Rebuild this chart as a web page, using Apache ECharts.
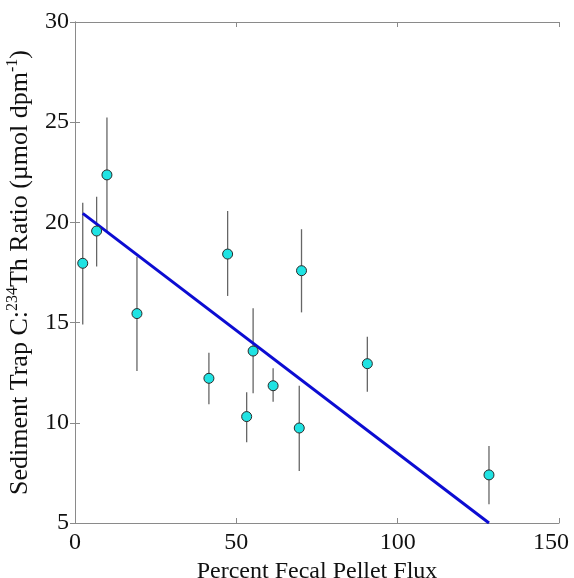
<!DOCTYPE html>
<html>
<head>
<meta charset="utf-8">
<script src="https://cdn.jsdelivr.net/npm/echarts@6/dist/echarts.min.js"></script>
<style>html,body{margin:0;padding:0;background:#fff}#c{width:574px;height:578px}</style>
</head>
<body>
<div id="c"></div>
<script>
// Data
var xValues   = [2.4, 6.7, 9.9, 19.2, 41.5, 47.3, 53.2, 55.2, 61.4, 69.5, 70.2, 90.6, 128.3];
var yValues   = [17.96, 19.57, 22.37, 15.45, 12.22, 18.42, 10.31, 13.58, 11.85, 9.74, 17.59, 12.95, 7.4];
var yLow      = [14.9, 17.8, 19.5, 12.58, 10.92, 16.33, 9.03, 11.47, 11.05, 7.6, 15.51, 11.55, 5.93];
var yHigh     = [20.98, 21.28, 25.24, 18.29, 13.5, 20.57, 11.52, 15.71, 12.72, 11.85, 19.66, 14.3, 8.84];
var fitX      = [2.4, 128.3];
var fitY      = [20.45, 5.0];
var xTicks    = [0, 50, 100, 150];
var yTicks    = [5, 10, 15, 20, 25, 30];

var points = xValues.map(function (x, i) { return [x, yValues[i]]; });
var bars = xValues.map(function (x, i) { return [x, yLow[i], yHigh[i]]; });
var fit = fitX.map(function (x, i) { return [x, fitY[i]]; });

var FONT = '"Liberation Serif", "Times New Roman", serif';
var axisCol = '#8a8a8a';
var xMax = xTicks[xTicks.length - 1];

var chart = echarts.init(document.getElementById('c'));
var baseX = { type: 'value', min: xTicks[0], max: xMax, interval: 50,
  splitLine: { show: false },
  axisLine: { show: true, lineStyle: { color: axisCol, width: 1 } },
  axisTick: { show: true, inside: true, length: 5, lineStyle: { color: axisCol } } };
var baseY = { type: 'value', min: yTicks[0], max: yTicks[yTicks.length - 1], interval: 5,
  splitLine: { show: false },
  axisLine: { show: true, lineStyle: { color: axisCol, width: 1 } },
  axisTick: { show: true, inside: true, length: 5, lineStyle: { color: axisCol } } };

chart.setOption({
  animation: false,
  backgroundColor: '#fff',
  grid: { left: 75, right: 15, top: 22, bottom: 55, containLabel: false, outerBoundsMode: 'none' },
  xAxis: [
    Object.assign({}, baseX, {
      position: 'bottom',
      axisLabel: { color: '#111', fontFamily: FONT, fontSize: 24, margin: 8,
        showMinLabel: true, showMaxLabel: true,
        formatter: function (v) { return v === xMax ? '{m|' + v + '}' : '{d|' + v + '}'; },
        rich: {
          d: { color: '#111', fontFamily: FONT, fontSize: 24 },
          m: { color: '#111', fontFamily: FONT, fontSize: 24, padding: [0, 16, 0, 0] }
        } },
      name: 'Percent Fecal Pellet Flux', nameLocation: 'middle', nameGap: 32,
      nameTextStyle: { color: '#111', fontFamily: FONT, fontSize: 24 }
    }),
    Object.assign({}, baseX, { position: 'top', axisLabel: { show: false } })
  ],
  yAxis: [
    Object.assign({}, baseY, {
      position: 'left',
      axisLabel: { color: '#111', fontFamily: FONT, fontSize: 24, margin: 6 },
      name: '{n|Sediment Trap C:}{s|234}{n|Th Ratio (µmol dpm}{s|-1}{n|)}',
      nameLocation: 'middle', nameRotate: 90, nameGap: 40,
      nameTextStyle: {
        color: '#111', fontFamily: FONT, fontSize: 26,
        rich: {
          n: { color: '#111', fontFamily: FONT, fontSize: 26, lineHeight: 30 },
          s: { color: '#111', fontFamily: FONT, fontSize: 16, lineHeight: 30, verticalAlign: 'top' }
        }
      }
    }),
    Object.assign({}, baseY, { position: 'right', axisLabel: { show: false } })
  ],
  series: [
    {
      type: 'custom',
      data: bars,
      z: 2,
      renderItem: function (params, api) {
        var x = api.value(0);
        var p1 = api.coord([x, api.value(1)]);
        var p2 = api.coord([x, api.value(2)]);
        return { type: 'line', shape: { x1: p1[0], y1: p1[1], x2: p2[0], y2: p2[1] },
          style: { stroke: '#666', lineWidth: 1.3 } };
      },
      encode: { x: 0, y: [1, 2] }
    },
    {
      type: 'line',
      data: fit,
      showSymbol: false,
      z: 3,
      lineStyle: { color: '#0c0cd2', width: 3 }
    },
    {
      type: 'scatter',
      data: points,
      z: 4,
      symbol: 'circle',
      symbolSize: 10,
      itemStyle: { color: '#1fe3e3', borderColor: '#2a2a2a', borderWidth: 1, opacity: 1 }
    }
  ]
});
</script>
</body>
</html>
